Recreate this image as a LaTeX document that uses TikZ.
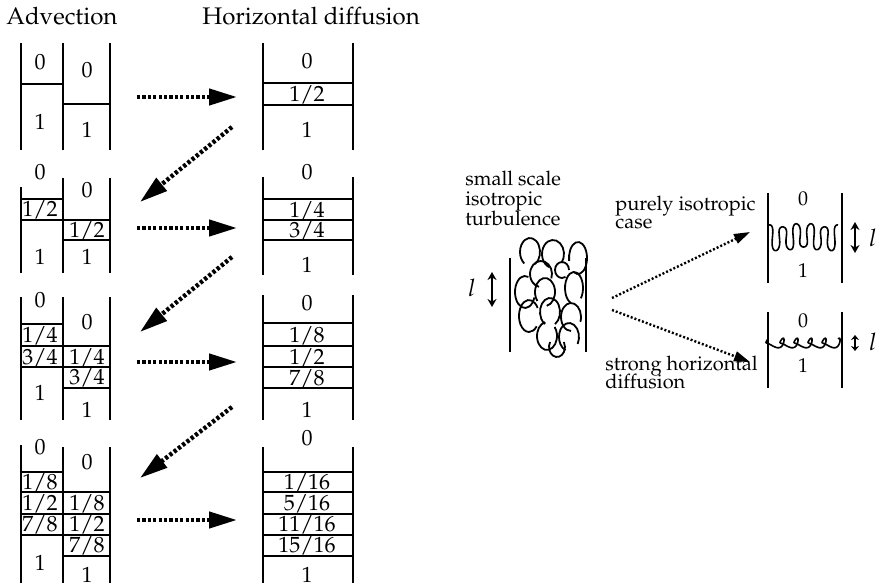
\documentclass[tikz,border=0pt]{standalone}
\usepackage[T1]{fontenc}
\usepackage{mathpazo}
\usetikzlibrary{arrows.meta}

\tikzset{
  wall/.style={line width=1pt},
  lbl/.style={font=\fontsize{11}{12}\selectfont, inner sep=0pt, text height=7.6pt, text depth=0pt},
  smalllbl/.style={font=\fontsize{10}{11}\selectfont, inner sep=0pt, text height=6.9pt, text depth=0pt},
  title/.style={font=\fontsize{12}{14}\selectfont, inner sep=0pt, anchor=base west},
  note/.style={font=\fontsize{10}{11}\selectfont, inner sep=0pt, anchor=base west},
  bigflow/.style={line width=2.2pt, dash pattern=on 1.6pt off 1.1pt, -{Triangle[length=14pt,width=8pt]}},
  flow/.style={line width=1.2pt, dash pattern=on 1pt off 1pt, -{Triangle[length=8pt,width=5pt]}},
  lscale/.style={line width=0.8pt, {Stealth[length=4pt,width=4.5pt]}-{Stealth[length=4pt,width=4.5pt]}},
  curl/.style={line width=0.9pt}
}

\begin{document}
\begin{tikzpicture}[x=0.5pt, y=-0.5pt]
    \useasboundingbox (0,0) rectangle (883,588);

    % Titles
    \node[title] (tadv) at (6,25) {Advection};
    \node[title] (tdiff) at (202,25) {Horizontal diffusion};

    % Advection, step 1
    \draw[wall] (21,43) -- (21,150) (63,43) -- (63,150) (110,43) -- (110,150);
    \draw[wall] (21,84) -- (63,84) (63,104) -- (110,104);
    \foreach \y/\t [count=\i] in {62/0, 122/1}
        \node[lbl] (a1l\i) at (40,\y) {\t};
    \foreach \y/\t [count=\i] in {70/0, 130/1}
        \node[lbl] (a1r\i) at (87,\y) {\t};

    % Advection, step 2
    \draw[wall] (21,187) -- (21,273) (63,178) -- (63,273) (110,178) -- (110,273);
    \draw[wall] (21,199) -- (63,199) (21,220) -- (110,220) (63,240) -- (110,240);
    \foreach \y/\t [count=\i] in {172/0, 209/1\slash2, 257/1}
        \node[lbl] (a2l\i) at (40,\y) {\t};
    \foreach \y/\t [count=\i] in {190/0, 230/1\slash2, 257/1}
        \node[lbl] (a2r\i) at (87,\y) {\t};

    % Advection, step 3
    \draw[wall] (21,297) -- (21,420) (63,297) -- (63,420) (110,297) -- (110,420);
    \draw[wall] (21,324) -- (63,324) (21,346) -- (110,346) (21,367) -- (110,367) (63,388) -- (110,388);
    \foreach \y/\t [count=\i] in {300/0, 335/1\slash4, 357/3\slash4, 393/1}
        \node[lbl] (a3l\i) at (40,\y) {\t};
    \foreach \y/\t [count=\i] in {322/0, 357/1\slash4, 377/3\slash4, 410/1}
        \node[lbl] (a3r\i) at (87,\y) {\t};

    % Advection, step 4
    \draw[wall] (21,445) -- (21,583) (63,447) -- (63,583) (110,447) -- (110,583);
    \draw[wall] (21,472) -- (63,472);
    \foreach \y in {492,514,535}
        \draw[wall] (21,\y) -- (110,\y);
    \draw[wall] (63,556) -- (110,556);
    \foreach \y/\t [count=\i] in {447/0, 482/1\slash8, 503/1\slash2, 524/7\slash8, 563/1}
        \node[lbl] (a4l\i) at (40,\y) {\t};
    \foreach \y/\t [count=\i] in {462/0, 503/1\slash8, 524/1\slash2, 545/7\slash8, 575/1}
        \node[lbl] (a4r\i) at (87,\y) {\t};

    % Horizontal diffusion columns
    \draw[wall] (263,43) -- (263,150) (353,43) -- (353,150);
    \draw[wall] (263,83) -- (353,83) (263,105) -- (353,105);
    \foreach \y/\t [count=\i] in {61/0, 94/1\slash2, 130/1}
        \node[lbl] (d1\i) at (307,\y) {\t};

    \draw[wall] (263,177) -- (263,275) (353,177) -- (353,275);
    \foreach \y in {199,220,240}
        \draw[wall] (263,\y) -- (353,\y);
    \foreach \y/\t [count=\i] in {172/0, 210/1\slash4, 230/3\slash4, 265/1}
        \node[lbl] (d2\i) at (307,\y) {\t};

    \draw[wall] (263,295) -- (263,420) (353,295) -- (353,420);
    \foreach \y in {323,346,367,388}
        \draw[wall] (263,\y) -- (353,\y);
    \foreach \y/\t [count=\i] in {303/0, 335/1\slash8, 357/1\slash2, 378/7\slash8, 410/1}
        \node[lbl] (d3\i) at (307,\y) {\t};

    \draw[wall] (263,447) -- (263,583) (353,447) -- (353,583);
    \foreach \y in {472,492,514,535,556}
        \draw[wall] (263,\y) -- (353,\y);
    \foreach \y/\t [count=\i] in {438/0, 482/1\slash16, 503/5\slash16, 524/11\slash16, 545/15\slash16, 575/1}
        \node[lbl] (d4\i) at (307,\y) {\t};

    % Arrows between the two columns
    \foreach \y [count=\i] in {97,228,362,520} {
        \coordinate (hs\i) at (137,\y);
        \coordinate (he\i) at (237,\y);
        \draw[bigflow] (hs\i) -- (he\i);
    }
    \foreach \ya/\yb [count=\i] in {127/202, 257/332, 407/478} {
        \coordinate (ds\i) at (232,\ya);
        \coordinate (de\i) at (140,\yb);
        \draw[bigflow] (ds\i) -- (de\i);
    }

    % Small scale turbulence
    \node[note] (ss1) at (465,186) {small scale};
    \node[note] (ss2) at (465,206) {isotropic};
    \node[note] (ss3) at (465,226) {turbulence};
    \draw[wall] (510,258) -- (510,352) (586,258) -- (586,352);
    \foreach \cx/\cy/\rx/\ry/\a/\b in {
        530/252/5/7/-60/235, 553/254/5.5/7/-40/250, 578/258/4.5/8/-120/190,
        541/274/5.5/6.5/-20/260, 562/270/3.5/4/0/300, 525/292/5/8/70/340,
        545/292/5/7/-80/220, 574/288/4.5/8/-40/250, 529/316/5/8/30/320,
        550/312/5/7/-60/240, 571/317/5/7/-20/270, 547/336/5/7/100/400,
        569/337/5/7/-30/250, 557/347/4/5/150/390}
        \draw[curl] ([shift={(\a:\rx pt and \ry pt)}]\cx,\cy)
            arc[start angle=\a, end angle=\b, x radius=\rx pt, y radius=\ry pt];
    \coordinate (lt1) at (492,272);
    \coordinate (lb1) at (492,307);
    \draw[lscale] (lt1) -- (lb1);
    \node[font=\fontsize{12}{14}\selectfont, inner sep=0pt] (ell1) at (472,288) {$l$};

    % Two outcomes
    \coordinate (src1) at (612,298);
    \coordinate (src2) at (612,310);
    \coordinate (dst1) at (750,232);
    \coordinate (dst2) at (750,362);
    \draw[flow] (src1) -- (dst1);
    \draw[flow] (src2) -- (dst2);

    % purely isotropic case
    \node[note] (pi1) at (615,211) {purely isotropic};
    \node[note] (pi2) at (615,229) {case};
    \draw[wall] (768,193) -- (768,283) (842,193) -- (842,283);
    \node[smalllbl] (u0) at (803,199) {0};
    \node[smalllbl] (u1) at (803,271) {1};
    \draw[curl, line width=0.8pt] plot[domain=0:31.4, samples=400, variable=\t]
        ({769+2.2*\t+1.7*sin(2*\t r)}, {237-(12+2*sin(0.7*\t r))*cos(\t r)});
    \coordinate (lt2) at (855,222);
    \coordinate (lb2) at (855,253);
    \draw[lscale] (lt2) -- (lb2);
    \node[font=\fontsize{12}{14}\selectfont, inner sep=0pt] (ell2) at (873,238) {$l$};

    % strong horizontal diffusion
    \node[note] (sh1) at (605,370) {strong horizontal};
    \node[note] (sh2) at (605,388) {diffusion};
    \draw[wall] (768,312) -- (768,388) (842,312) -- (842,388);
    \node[smalllbl] (w0) at (803,321) {0};
    \node[smalllbl] (w1) at (803,366) {1};
    \draw[curl, line width=0.8pt] plot[domain=0:31.4, samples=300, variable=\t]
        ({768+2.23*\t-5*sin(\t r)}, {343-4*cos(\t r)+1.5*sin(2*\t r)});
    \coordinate (lt3) at (855,335);
    \coordinate (lb3) at (855,351);
    \draw[lscale, {Stealth[length=2.5pt,width=4pt]}-{Stealth[length=2.5pt,width=4pt]}] (lt3) -- (lb3);
    \node[font=\fontsize{12}{14}\selectfont, inner sep=0pt] (ell3) at (873,342) {$l$};

\end{tikzpicture}
\end{document}
